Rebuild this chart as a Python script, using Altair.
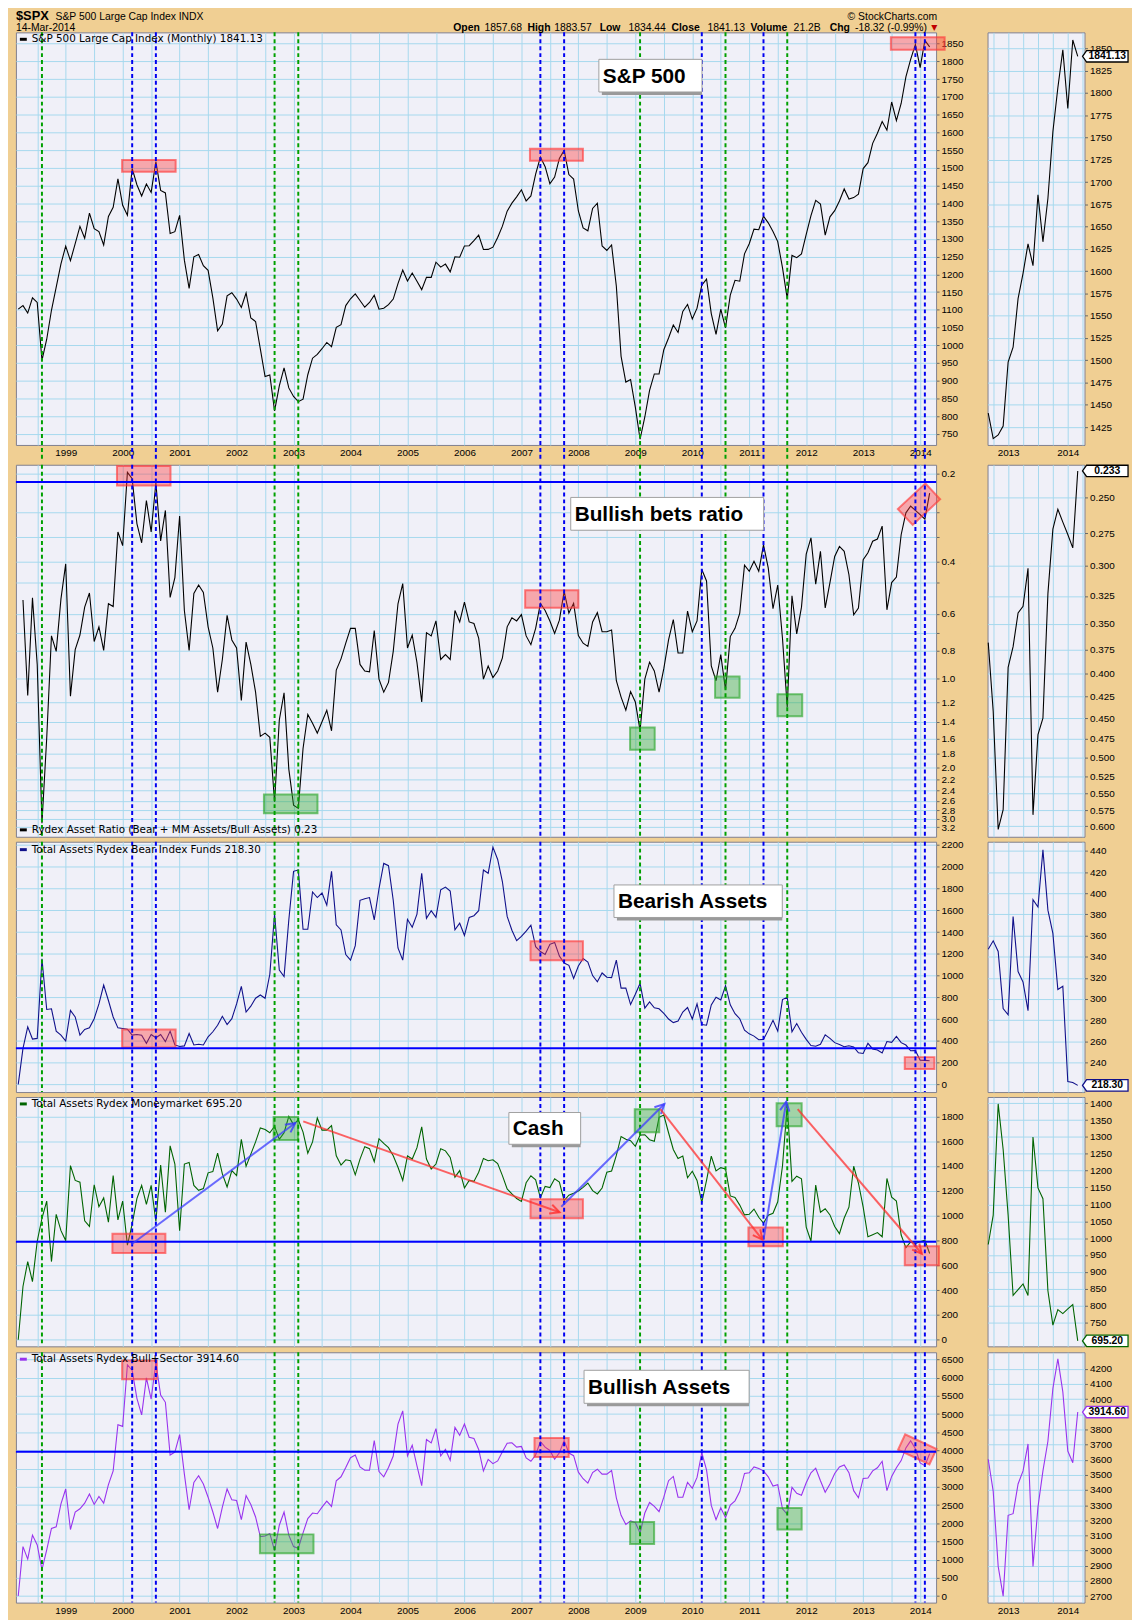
import math
import altair as alt
import pandas as pd

# ------------------------------------------------------------------
# DATA  (monthly, Mar 1998 .. Mar 2014)
# ------------------------------------------------------------------
spx = [
    1101.75, 1111.75, 1090.82, 1133.84, 1120.67, 957.28, 1017.01, 1098.67, 1163.63, 1229.23,
    1279.64, 1238.33, 1286.37, 1335.18, 1301.84, 1372.71, 1328.72, 1320.41, 1282.71, 1362.93, 1388.91, 1469.25,
    1394.46, 1366.42, 1498.58, 1452.43, 1420.60, 1454.60, 1430.83, 1517.68, 1436.51, 1429.40, 1314.95, 1320.28,
    1366.01, 1239.94, 1160.33, 1249.46, 1255.82, 1224.42, 1211.23, 1133.58, 1040.94, 1059.78, 1139.45, 1148.08,
    1130.20, 1106.73, 1147.39, 1076.92, 1067.14, 989.82, 911.62, 916.07, 815.28, 885.76, 936.31, 879.82,
    855.70, 841.15, 848.18, 916.92, 963.59, 974.50, 990.31, 1008.01, 995.97, 1050.71, 1058.20, 1111.92,
    1131.13, 1144.94, 1126.21, 1107.30, 1120.68, 1140.84, 1101.72, 1104.24, 1114.58, 1130.20, 1173.82, 1211.92,
    1181.27, 1203.60, 1180.59, 1156.85, 1191.50, 1191.33, 1234.18, 1220.33, 1228.81, 1207.01, 1249.48, 1248.29,
    1280.08, 1280.66, 1294.83, 1310.61, 1270.09, 1270.20, 1276.66, 1303.82, 1335.85, 1377.94, 1400.63, 1418.30,
    1438.24, 1406.82, 1420.86, 1482.37, 1530.62, 1503.35, 1455.27, 1473.99, 1526.75, 1549.38, 1481.14, 1468.36,
    1378.55, 1330.63, 1322.70, 1385.59, 1400.38, 1280.00, 1267.38, 1282.83, 1166.36, 968.75, 896.24, 903.25,
    825.88, 735.09, 797.87, 872.81, 919.14, 919.32, 987.48, 1020.62, 1057.08, 1036.19, 1095.63, 1115.10,
    1073.87, 1104.49, 1169.43, 1186.69, 1089.41, 1030.71, 1101.60, 1049.33, 1141.20, 1183.26, 1180.55, 1257.64,
    1286.12, 1327.22, 1325.83, 1363.61, 1345.20, 1320.64, 1292.28, 1218.89, 1131.42, 1253.30, 1246.96, 1257.60,
    1312.41, 1365.68, 1408.47, 1397.91, 1310.33, 1362.16, 1379.32, 1406.58, 1440.67, 1412.16, 1416.18, 1426.19,
    1498.11, 1514.68, 1569.19, 1597.57, 1630.74, 1606.28, 1685.73, 1632.97, 1681.55, 1756.54, 1805.81, 1848.36,
    1782.59, 1859.45, 1841.13,
]

ratio = [
    None, 0.539, 1.139, 0.530, 0.893, 3.10, 1.590, 0.714, 0.806, 0.534, 0.406,
    1.145, 0.795, 0.709, 0.570, 0.510, 0.746, 0.665, 0.800, 0.555, 0.567,
    0.316, 0.352, 0.198, 0.208, 0.296, 0.344, 0.247, 0.316, 0.215, 0.339,
    0.267, 0.528, 0.452, 0.279, 0.585, 0.800, 0.512, 0.479, 0.508, 0.665,
    0.785, 1.110, 0.859, 0.608, 0.737, 0.785, 1.184, 0.750, 0.893, 1.110,
    1.570, 1.530, 1.582, 2.623, 1.381, 1.116, 2.029, 2.691, 2.761, 1.727,
    1.322, 1.417, 1.530, 1.399, 1.279, 1.503, 0.933, 0.855, 0.756, 0.673,
    0.673, 0.893, 0.940, 0.947, 0.685, 1.002, 1.110, 1.028, 0.806, 0.555,
    0.474, 0.785, 0.709, 0.881, 1.199, 0.696, 0.714, 0.635, 0.859, 0.827,
    0.859, 0.585, 0.640, 0.548, 0.640, 0.648, 0.727, 1.002, 0.904, 0.990,
    0.940, 0.848, 0.665, 0.619, 0.635, 0.604, 0.714, 0.765, 0.673, 0.553,
    0.585, 0.635, 0.700, 0.631, 0.504, 0.597, 0.553, 0.712, 0.756, 0.775,
    0.640, 0.595, 0.691, 0.691, 0.682, 1.015, 1.154, 1.279, 1.105, 1.199,
    1.500, 1.002, 0.877, 0.940, 1.110, 0.923, 0.737, 0.628, 0.816, 0.816,
    0.588, 0.691, 0.635, 0.424, 0.464, 0.904, 1.015, 0.827, 1.090, 0.718,
    0.673, 0.597, 0.410, 0.430, 0.398, 0.430, 0.350, 0.419, 0.577, 0.479,
    0.727, 1.250, 0.521, 0.703, 0.570, 0.376, 0.331, 0.476, 0.368, 0.573,
    0.470, 0.383, 0.354,
    0.368, 0.442, 0.605, 0.574, 0.393, 0.372, 0.340, 0.334, 0.302, 0.582,
    0.470, 0.450, 0.323, 0.272, 0.258, 0.267, 0.276, 0.286, 0.233,
]

bear = [
    0, 332, 529, 417, 423, 1154, 689, 695, 490, 453, 399,
    680, 620, 453, 505, 520, 604, 740, 913, 771, 620,
    520, 514, 508, 453, 459, 453, 378, 459, 429, 459,
    393, 490, 363, 348, 354, 468, 363, 369, 363, 438,
    484, 544, 626, 550, 604, 740, 901, 665, 719, 792,
    822, 792, 1012, 1565, 1052, 991, 1511, 1958, 1970, 1426,
    1426, 1768, 1717, 1759, 1647, 1958, 1466, 1420, 1194, 1142,
    1275, 1692, 1707, 1717, 1511, 1798, 2031, 2010, 1692, 1254,
    1142, 1517, 1445, 1565, 1940, 1526, 1596, 1535, 1789, 1813,
    1777, 1420, 1481, 1369, 1535, 1550, 1596, 1970, 1940, 2180,
    2067, 1862, 1544, 1417, 1321, 1360, 1408, 1463, 1266, 1221,
    1194, 1287, 1305, 1179, 1115, 1094, 973, 1088, 1157, 1124,
    1000, 943, 1024, 985, 982, 1142, 885, 885, 734, 828,
    928, 701, 758, 704, 695, 653, 601, 568, 583, 665,
    707, 601, 740, 550, 544, 731, 801, 777, 907, 731,
    650, 604, 499, 465, 444, 411, 414, 499, 589, 490,
    780, 801, 484, 559, 480, 414, 357, 351, 369, 456,
    423, 384, 366,
    347, 355, 345, 291, 285, 378, 326, 316, 289, 394,
    387, 441, 384, 362, 309, 312, 222, 221, 218.3,
]

mm = [
    0, 429, 630, 468, 794, 979, 1117, 630, 1011, 879, 799,
    1403, 1284, 1270, 958, 913, 1249, 1072, 1143, 948, 1323,
    966, 1117, 762, 932, 1138, 1244, 1091, 1244, 953, 1408,
    1027, 1562, 1416, 879, 1416, 1429, 1244, 1204, 1218, 1345,
    1355, 1503, 1337, 1231, 1363, 1323, 1615, 1398, 1496, 1594,
    1707, 1694, 1668, 1720, 1615, 1668, 1800, 1734, 1773, 1673,
    1503, 1594, 1787, 1689, 1689, 1726, 1482, 1408, 1450, 1443,
    1329, 1456, 1556, 1540, 1435, 1620, 1583, 1548, 1482, 1390,
    1284, 1482, 1456, 1548, 1715, 1456, 1376, 1416, 1540, 1522,
    1469, 1310, 1363, 1223, 1284, 1276, 1350, 1461, 1443, 1450,
    1419, 1323, 1215, 1175, 1138, 1114, 1265, 1321, 1289, 1143,
    1236, 1226, 1297, 1271, 1122, 1165, 1181, 1199, 1228, 1263,
    1202, 1175, 1223, 1350, 1360, 1485, 1638, 1615, 1604, 1559,
    1649, 1652, 1612, 1599, 1792, 1810, 1668, 1533, 1461, 1480,
    1305, 1358, 1284, 1106, 1284, 1480, 1360, 1387, 1376, 1159,
    1146, 1085, 1006, 1011, 1053, 987, 940, 1003, 1019, 1112,
    1400, 1892, 1276, 1318, 1297, 908, 794, 1247, 1027, 1056,
    1006, 913, 855,
    981, 1068, 1398, 1263, 1068, 830, 847, 864, 830, 1300,
    1149, 1117, 844, 742, 788, 776, 790, 803, 695.2,
]

bull = [
    0, 1358, 1014, 1675, 1403, 724, 1267, 1856, 1901, 2535, 2942,
    1829, 2309, 2399, 2553, 2806, 2517, 2734, 2553, 3060, 3440,
    4708, 4662, 6355, 6201, 5432, 4979, 5993, 5414, 6410, 5522,
    5323, 3875, 3956, 4436, 3350, 2372, 3123, 3304, 3078, 2716,
    2309, 1856, 2444, 2942, 2643, 2625, 2100, 2761, 2517, 2173,
    1630, 1648, 1720, 1249, 1946, 2309, 1675, 1358, 1313, 1738,
    2128, 2281, 2263, 2444, 2607, 2462, 3169, 3277, 3531, 3802,
    3875, 3549, 3458, 3458, 4273, 3422, 3277, 3531, 3848, 4726,
    5088, 3848, 4146, 3576, 3033, 4300, 4210, 4599, 3848, 4029,
    3730, 4635, 4418, 4726, 4364, 4327, 4029, 3440, 3757, 3639,
    3712, 3965, 4201, 4210, 4092, 4110, 3793, 3703, 3875, 4246,
    4092, 4001, 3757, 3938, 4273, 3929, 3857, 3404, 3223, 3105,
    3395, 3485, 3350, 3350, 3449, 2698, 2218, 1965, 2064, 2019,
    1729, 2281, 2571, 2462, 2318, 2716, 3169, 3286, 2716, 2716,
    3123, 2960, 3259, 3938, 3467, 2490, 2100, 2426, 2155, 2499,
    2616, 2870, 3368, 3386, 3549, 3504, 3440, 3277, 3024, 3060,
    2399, 2245, 2988, 2825, 2770, 3114, 3386, 3513, 3169, 2852,
    3078, 3368, 3549,
    3603, 3391, 2896, 2700, 3233, 3244, 3440, 3526, 3704, 2896,
    3287, 3526, 3722, 4070, 4265, 4048, 3657, 3580, 3914.6,
]

# month -> fractional year (Mar 1998 = 1998 + 2/12)
t = [round(1998 + (2 + i) / 12.0, 4) for i in range(len(spx))]

# marker lines (dates)
green_lines = [1998.583, 2002.667, 2003.083, 2009.083, 2010.583, 2011.667]
blue_lines = [2000.167, 2000.583, 2007.333, 2007.75, 2010.167, 2011.25, 2013.917, 2014.083]

# highlight boxes: (t1, t2, v1, v2)
p1_red = [(1999.99, 2000.93, 1489, 1522), (2007.15, 2008.08, 1520, 1554), (2013.486, 2014.43, 1833, 1868)]
p2_red = [(1999.90, 2000.84, 0.1885, 0.2195), (2007.066, 2008.0, 0.499, 0.573)]
p2_green = [(2002.48, 2003.42, 2.476, 2.87), (2008.908, 2009.34, 1.465, 1.742),
            (2010.40, 2010.83, 0.982, 1.16), (2011.495, 2011.93, 1.128, 1.34)]
p3_red = [(1999.99, 2000.93, 340, 505), (2007.16, 2008.08, 1140, 1315), (2013.73, 2014.25, 142, 251)]
p4_red = [(1999.82, 2000.75, 699, 855), (2007.16, 2008.08, 979, 1132), (2010.985, 2011.59, 754, 905),
          (2013.73, 2014.33, 600, 754)]
p4_green = [(2002.65, 2003.08, 1609, 1795), (2008.99, 2009.42, 1672, 1858), (2011.48, 2011.92, 1720, 1906)]
p5_red = [(1999.99, 2000.60, 5959, 6475), (2007.23, 2007.83, 3821, 4345)]
p5_green = [(2002.41, 2003.35, 1179, 1695), (2008.908, 2009.33, 1431, 2037), (2011.495, 2011.92, 1830, 2417)]

# rotated highlight boxes: (t, v)
p2_rot = (2013.98, 0.254)
p5_rot = (2013.95, 4030)

# reference levels
p2_level, p3_level, p4_level, p5_level = 0.2138, 333, 790, 3965

# arrows on the cash panel: (colour, t1, v1, t2, v2)
arrows = [
    ("b", 2000.15, 767, 2003.03, 1747),
    ("r", 2003.17, 1760, 2007.67, 1027),
    ("b", 2007.70, 1072, 2009.51, 1900),
    ("r", 2009.44, 1858, 2011.23, 807),
    ("b", 2011.25, 807, 2011.65, 1919),
    ("r", 2011.85, 1858, 2014.03, 693),
]

# caption boxes: (text, t1, t2, v1, v2)
cap1 = ("S&P 500", 2008.36, 2010.17, 1714, 1806)
cap2 = ("Bullish bets ratio", 2007.866, 2011.253, 0.2411, 0.3118)
cap3 = ("Bearish Assets", 2008.625, 2011.58, 1534, 1833)
cap4 = ("Cash", 2006.78, 2008.04, 1575, 1831)
cap5 = ("Bullish Assets", 2008.1, 2010.998, 5296, 6203)

# ------------------------------------------------------------------
# STYLE / LAYOUT
# ------------------------------------------------------------------
BG = "#F0CF93"
PLOT_BG = "#F0F0F8"
GRID = "#A6D9EE"
GREEN = "#00A000"
BLUE = "#0000F0"
FONT = "Liberation Sans"

XMAIN = [1998.126, 2014.28]
XSMALL = [2012.655, 2014.28]
W_MAIN, W_SMALL = 930, 98
H = [417, 376, 253, 252, 253]
SPACER = 35      # reserved room right of each main panel (axis labels)
COLGAP = 14      # gap between that room and the small panel

df = pd.DataFrame({"t": t, "spx": spx, "ratio": ratio, "bear": bear, "mm": mm, "bull": bull})
df_small = df[df["t"] >= 2012.66]

xvals_main = [1998.5 + 0.5 * i for i in range(32)]
xvals_small = [2012.75 + 0.25 * i for i in range(7)]
year_expr = "datum.value % 1 == 0 ? format(datum.value, 'd') : ''"


class Panel:
    """Shared scales + axes so that every layer merges into one axis pair."""

    def __init__(self, small, ydom, yvals, yfmt=None, log=False, xlabels=False, label_expr=None):
        self.xs = alt.Scale(domain=XSMALL if small else XMAIN, nice=False, zero=False)
        if log:
            self.ys = alt.Scale(domain=ydom, type="log", reverse=True, nice=False, zero=False)
        else:
            self.ys = alt.Scale(domain=ydom, nice=False, zero=False)
        self.log = log
        self.xa = alt.Axis(values=xvals_small if small else xvals_main, labelExpr=year_expr,
                           labels=xlabels, grid=True, gridColor=GRID, ticks=False, domain=False,
                           title=None, labelFontSize=10, labelPadding=3, labelFlush=False,
                           labelOverlap=False, labelFont=FONT, labelColor="black")
        kw = dict(orient="right", values=yvals, grid=True, gridColor=GRID, ticks=True, tickSize=3,
                  tickColor="#666666", domain=False, title=None, labelFontSize=10, labelPadding=2,
                  labelOverlap=False, labelFlush=False, labelFont=FONT, labelColor="black")
        if label_expr:
            kw["labelExpr"] = label_expr
        else:
            kw["format"] = yfmt
        self.ya = alt.Axis(**kw)

    def X(self, f):
        return alt.X(f"{f}:Q", scale=self.xs, axis=self.xa)

    def Y(self, f):
        return alt.Y(f"{f}:Q", scale=self.ys, axis=self.ya)


def txt(s, x, y, size=11, bold=False, align="left", color="black", font=FONT):
    return alt.Chart(pd.DataFrame({"s": [s]})).mark_text(
        align=align, baseline="middle", fontSize=size,
        fontWeight="bold" if bold else "normal", font=font, color=color
    ).encode(x=alt.value(x), y=alt.value(y), text="s:N")


def legend(s, color, y):
    dash = alt.Chart(pd.DataFrame({"a": [0]})).mark_rule(color=color, strokeWidth=3).encode(
        x=alt.value(4), x2=alt.value(11), y=alt.value(y))
    return [dash, txt(s, 16, y, size=10.5, font="DejaVu Sans")]


def spacer():
    return alt.Chart(pd.DataFrame({"a": [0]})).mark_rule(color=BG, strokeWidth=1).encode(
        x=alt.value(W_MAIN + SPACER), y=alt.value(100), y2=alt.value(101))


def line(P, data, field, color):
    return alt.Chart(data).mark_line(color=color, strokeWidth=1.1).encode(x=P.X("t"), y=P.Y(field))


def vrules(P, extend=0, h=0):
    out = []
    for lst, col in ((green_lines, GREEN), (blue_lines, BLUE)):
        enc = dict(x=P.X("t"))
        if extend:
            enc["y"] = alt.value(0)
            enc["y2"] = alt.value(h + extend)
        out.append(alt.Chart(pd.DataFrame({"t": lst})).mark_rule(
            color=col, strokeDash=[4, 3], strokeWidth=2).encode(**enc))
    return out


def boxes(P, lst, kind):
    if not lst:
        return []
    d = pd.DataFrame(lst, columns=["t1", "t2", "v1", "v2"])
    col = "#FF3A3A" if kind == "r" else "#2EA82E"
    return [alt.Chart(d).mark_rect(fill=col, fillOpacity=0.4, stroke=col, strokeWidth=2,
                                   strokeOpacity=0.65).encode(
        x=P.X("t1"), x2="t2:Q", y=P.Y("v1"), y2="v2:Q")]


def rot_box(P, pt, w, h, angle):
    hh = h / w
    path = f"M-1,-{hh:.3f} L1,-{hh:.3f} L1,{hh:.3f} L-1,{hh:.3f} Z"
    d = pd.DataFrame({"t": [pt[0]], "v": [pt[1]]})
    return alt.Chart(d).mark_point(shape=path, size=w * w, angle=angle, filled=True,
                                   fill="#FF3A3A", fillOpacity=0.4, stroke="#FF3A3A",
                                   strokeWidth=2, strokeOpacity=0.65).encode(x=P.X("t"), y=P.Y("v"))


def hline(P, v):
    return alt.Chart(pd.DataFrame({"v": [v]})).mark_rule(color="#0000FF", strokeWidth=2).encode(y=P.Y("v"))


def caption(P, cap):
    s, t1, t2, v1, v2 = cap
    vm = math.sqrt(v1 * v2) if P.log else (v1 + v2) / 2
    d = pd.DataFrame({"t1": [t1], "t2": [t2], "v1": [v1], "v2": [v2], "vm": [vm], "s": [s]})
    shadow = alt.Chart(d).mark_rect(fill="#9A9A9A", xOffset=3, yOffset=3).encode(
        x=P.X("t1"), x2="t2:Q", y=P.Y("v1"), y2="v2:Q")
    box = alt.Chart(d).mark_rect(fill="white", stroke="#A0A0A0", strokeWidth=1).encode(
        x=P.X("t1"), x2="t2:Q", y=P.Y("v1"), y2="v2:Q")
    label = alt.Chart(d).mark_text(align="left", baseline="middle", dx=4, dy=1, fontSize=21,
                                   fontWeight="bold", font=FONT, color="black").encode(
        x=P.X("t1"), y=P.Y("vm"), text="s:N")
    return [shadow, box, label]


def tag(P, value, label, color):
    d = pd.DataFrame({"v": [value], "s": [label]})
    shape = "M-1,0 L-0.82,-0.25 L1,-0.25 L1,0.25 L-0.82,0.25 Z"
    box = alt.Chart(d).mark_point(shape=shape, size=46 * 46, filled=True, fill="white",
                                  stroke=color, strokeWidth=1.3, opacity=1).encode(
        x=alt.value(W_SMALL + 21), y=P.Y("v"))
    lab = alt.Chart(d).mark_text(align="center", baseline="middle", fontSize=10.5,
                                 fontWeight="bold", font=FONT, color="black").encode(
        x=alt.value(W_SMALL + 23), y=P.Y("v"), text="s:N")
    return [box, lab]


# ------------------------------------------------------------------
# PANEL 1 : S&P 500
# ------------------------------------------------------------------
P1 = Panel(False, [719, 1882], list(range(750, 1851, 50)), "d", xlabels=True)
P1s = Panel(True, [1405, 1868], list(range(1425, 1851, 25)), "d", xlabels=True)
p1_layers = [line(P1, df, "spx", "black")]
p1_layers += boxes(P1, p1_red, "r")
p1_layers += vrules(P1, extend=15, h=H[0])
p1_layers += caption(P1, cap1)
p1_layers += legend("S&P 500 Large Cap Index (Monthly) 1841.13", "black", 7)
hdr_y1, hdr_y2 = -16, -4.5
p1_layers += [
    txt("$SPX", 0, hdr_y1, size=13, bold=True),
    txt("S&P 500 Large Cap Index INDX", 40, hdr_y1, size=10.5),
    txt("\u00a9 StockCharts.com", 931, hdr_y1, size=10.5, align="right"),
    txt("14-Mar-2014", 0, hdr_y2, size=10.5),
]
for s, x, b in [("Open", 442, True), ("1857.68", 473.5, False), ("High", 517, True), ("1883.57", 544, False),
                ("Low", 590, True), ("1834.44", 619, False), ("Close", 662.5, True), ("1841.13", 699, False),
                ("Volume", 742.5, True), ("21.2B", 786, False), ("Chg", 822.5, True),
                ("-18.32 (-0.99%)", 848, False)]:
    p1_layers.append(txt(s, x, hdr_y2, size=10.5, bold=b))
p1_layers.append(txt("\u25bc", 925, hdr_y2, size=8, color="#C00000", font="DejaVu Sans"))
p1_layers.append(spacer())
p1 = alt.layer(*p1_layers).properties(width=W_MAIN, height=H[0])
p1s = alt.layer(line(P1s, df_small, "spx", "black"), *tag(P1s, 1841.13, "1841.13", "black")
                ).properties(width=W_SMALL, height=H[0])

# ------------------------------------------------------------------
# PANEL 2 : Bullish bets ratio (reversed log)
# ------------------------------------------------------------------
extra = [0.27, 0.33, 0.47, 0.7]
p2_ticks = sorted([0.2, 0.4, 0.6, 0.8, 1.0, 1.2, 1.4, 1.6, 1.8, 2.0, 2.2, 2.4, 2.6, 2.8, 3.0, 3.2] + extra)
p2_expr = "indexof([0.27, 0.33, 0.47, 0.7], datum.value) >= 0 ? '' : format(datum.value, '.1f')"
P2 = Panel(False, [0.1866, 3.45], p2_ticks, log=True, label_expr=p2_expr)
P2s = Panel(True, [0.2292, 0.617], [round(0.25 + 0.025 * i, 3) for i in range(15)], ".3f", log=True)
p2_layers = [line(P2, df, "ratio", "black")]
p2_layers += boxes(P2, p2_red, "r") + boxes(P2, p2_green, "g")
p2_layers.append(rot_box(P2, p2_rot, 38, 22, 317))
p2_layers += vrules(P2)
p2_layers.append(hline(P2, p2_level))
p2_layers += caption(P2, cap2)
p2_layers += legend("Rydex Asset Ratio (Bear + MM Assets/Bull Assets) 0.23", "black", H[1] - 7)
p2_layers.append(spacer())
p2 = alt.layer(*p2_layers).properties(width=W_MAIN, height=H[1])
p2s = alt.layer(line(P2s, df_small, "ratio", "black"), *tag(P2s, 0.233, "0.233", "black")
                ).properties(width=W_SMALL, height=H[1])

# ------------------------------------------------------------------
# PANEL 3 : Bear assets
# ------------------------------------------------------------------
NAVY = "#10108A"
P3 = Panel(False, [-70, 2230], list(range(0, 2201, 200)), "d")
P3s = Panel(True, [212, 448.7], list(range(240, 441, 20)), "d")
p3_layers = [line(P3, df, "bear", NAVY)]
p3_layers += boxes(P3, p3_red, "r")
p3_layers += vrules(P3)
p3_layers.append(hline(P3, p3_level))
p3_layers += caption(P3, cap3)
p3_layers += legend("Total Assets Rydex Bear Index Funds 218.30", NAVY, 8)
p3_layers.append(spacer())
p3 = alt.layer(*p3_layers).properties(width=W_MAIN, height=H[2])
p3s = alt.layer(line(P3s, df_small, "bear", NAVY), *tag(P3s, 218.3, "218.30", NAVY)
                ).properties(width=W_SMALL, height=H[2])

# ------------------------------------------------------------------
# PANEL 4 : Money market (cash)
# ------------------------------------------------------------------
DKGREEN = "#006400"
d4m = [-53, 1956]
P4 = Panel(False, d4m, list(range(0, 1801, 200)), "d")
P4s = Panel(True, [679, 1418.5], list(range(750, 1401, 50)), "d")
p4_layers = [line(P4, df, "mm", DKGREEN)]
p4_layers += boxes(P4, p4_red, "r") + boxes(P4, p4_green, "g")
p4_layers += vrules(P4)
p4_layers.append(hline(P4, p4_level))

sx = W_MAIN / (XMAIN[1] - XMAIN[0])
sy = H[3] / (d4m[1] - d4m[0])
arr = pd.DataFrame(arrows, columns=["c", "t1", "v1", "t2", "v2"])
arr["ang"] = [math.degrees(math.atan2((r.t2 - r.t1) * sx, (r.v2 - r.v1) * sy)) % 360 for r in arr.itertuples()]
head_path = "M-0.55,1.1 L0,0 L0.55,1.1"
for c, col in (("b", "#3C3CFF"), ("r", "#FF3030")):
    sub = arr[arr["c"] == c]
    p4_layers.append(alt.Chart(sub).mark_rule(color=col, strokeWidth=2, opacity=0.75).encode(
        x=P4.X("t1"), x2="t2:Q", y=P4.Y("v1"), y2="v2:Q"))
    p4_layers.append(alt.Chart(sub).mark_point(shape=head_path, size=300, filled=False, color=col,
                                               strokeWidth=2, opacity=0.8).encode(
        x=P4.X("t2"), y=P4.Y("v2"), angle=alt.Angle("ang:Q", scale=None)))
p4_layers += caption(P4, cap4)
p4_layers += legend("Total Assets Rydex Moneymarket 695.20", DKGREEN, 7)
p4_layers.append(spacer())
p4 = alt.layer(*p4_layers).properties(width=W_MAIN, height=H[3])
p4s = alt.layer(line(P4s, df_small, "mm", DKGREEN), *tag(P4s, 695.2, "695.20", DKGREEN)
                ).properties(width=W_SMALL, height=H[3])

# ------------------------------------------------------------------
# PANEL 5 : Bull + sector assets
# ------------------------------------------------------------------
PURPLE = "#9933EE"
P5 = Panel(False, [-180, 6698], list(range(0, 6501, 500)), "d", xlabels=True)
P5s = Panel(True, [2657, 4309], list(range(2700, 4201, 100)), "d", xlabels=True)
p5_layers = [line(P5, df, "bull", PURPLE)]
p5_layers += boxes(P5, p5_red, "r") + boxes(P5, p5_green, "g")
p5_layers.append(rot_box(P5, p5_rot, 35, 17, 25))
p5_layers += vrules(P5)
p5_layers.append(hline(P5, p5_level))
p5_layers += caption(P5, cap5)
p5_layers += legend("Total Assets Rydex Bull+Sector 3914.60", PURPLE, 7)
p5_layers.append(spacer())
p5 = alt.layer(*p5_layers).properties(width=W_MAIN, height=H[4])
p5s = alt.layer(line(P5s, df_small, "bull", PURPLE), *tag(P5s, 3914.6, "3914.60", PURPLE)
                ).properties(width=W_SMALL, height=H[4])

# ------------------------------------------------------------------
# LAYOUT
# ------------------------------------------------------------------
rows = [alt.hconcat(a, b, spacing=COLGAP) for a, b in
        ((p1, p1s), (p2, p2s), (p3, p3s), (p4, p4s), (p5, p5s))]
chart = alt.vconcat(*rows, spacing=0).properties(
    background=BG, padding={"left": 6, "top": -7, "right": 0, "bottom": 0}
).configure_view(fill=PLOT_BG, stroke="#7F7F8F", strokeWidth=1)

chart.save("out.html", embed_options={"renderer": "svg", "actions": False})
